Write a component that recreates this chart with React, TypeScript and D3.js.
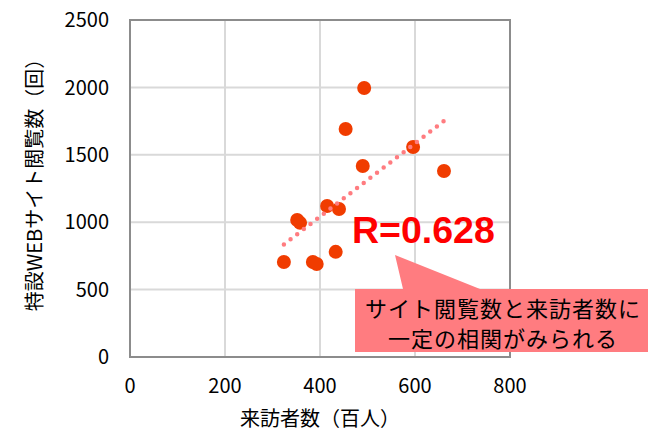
import React from "react";
import * as d3 from "d3";

const visitors = [324, 385, 393, 433, 352, 358, 415, 440, 490, 454, 493, 596, 661];
const views = [705, 705, 690, 780, 1016, 995, 1120, 1098, 1417, 1691, 1996, 1558, 1380];
const xTicks = [0, 200, 400, 600, 800];
const yTicks = [0, 500, 1000, 1500, 2000, 2500];
const xTitle = "来訪者数（百人）";
const yTitle = "特設WEBサイト閲覧数（回）";
const rLabel = "R=0.628";
const calloutLines = ["サイト閲覧数と来訪者数に", "一定の相関がみられる"];

const W = 652, H = 432;
const M = { left: 130, right: 510, top: 20, bottom: 357 };

export default function App() {
  const x = d3.scaleLinear().domain([0, 800]).range([M.left, M.right]);
  const y = d3.scaleLinear().domain([0, 2500]).range([M.bottom, M.top]);

  const mx = d3.mean(visitors)!;
  const my = d3.mean(views)!;
  let sxy = 0, sxx = 0;
  visitors.forEach((v, i) => { sxy += (v - mx) * (views[i] - my); sxx += (v - mx) ** 2; });
  const slope = sxy / sxx;
  const icpt = my - slope * mx;
  const [x0, x1] = d3.extent(visitors) as [number, number];
  const trend = d3.line<number>().x((d) => x(d)).y((d) => y(icpt + slope * d))([x0, x1]);

  const font = "'Noto Sans CJK JP', 'Noto Sans', sans-serif";

  return (
    <svg width={W} height={H} style={{ position: "absolute", left: 0, top: 0, background: "#fff" }} fontFamily={font}>
      {xTicks.slice(1, -1).map((t) => (
        <line key={"gx" + t} x1={x(t)} x2={x(t)} y1={M.top} y2={M.bottom} stroke="#d9d9d9" strokeWidth={2} />
      ))}
      {yTicks.slice(1, -1).map((t) => (
        <line key={"gy" + t} x1={M.left} x2={M.right} y1={y(t)} y2={y(t)} stroke="#d9d9d9" strokeWidth={2} />
      ))}
      <rect x={M.left} y={M.top} width={M.right - M.left} height={M.bottom - M.top} fill="none" stroke="#8c8c8c" strokeWidth={2} />
      {yTicks.map((t) => (
        <text key={"ty" + t} x={109} y={y(t)} dy="0.36em" textAnchor="end" fontSize={20} fill="#000">{t}</text>
      ))}
      {xTicks.map((t) => (
        <text key={"tx" + t} x={x(t)} y={393} textAnchor="middle" fontSize={20} fill="#000">{t}</text>
      ))}
      <text x={320} y={426} textAnchor="middle" fontSize={20} fill="#000">{xTitle}</text>
      <text transform={`translate(42,180) rotate(-90)`} textAnchor="middle" fontSize={20} fill="#000">{yTitle}</text>
      {visitors.map((v, i) => (
        <circle key={"p" + i} cx={x(v)} cy={y(views[i])} r={7} fill="#F03C00" />
      ))}
      <path d={trend ?? ""} fill="none" stroke="#FF7C80" strokeWidth={4.5} strokeLinecap="round" strokeDasharray="0 8.4" />
      <text x={352} y={243} fontSize={37.5} fontWeight="bold" fill="#FF0000" fontFamily="'Liberation Sans', Arial, sans-serif">{rLabel}</text>
      <path d="M395,255 L480,289 L648,289 L648,352 L355,352 L355,289 L403,289 Z" fill="#FF7C80" />
      <text x={503} y={317} textAnchor="middle" fontSize={22} fill="#000" letterSpacing={1}>
        {calloutLines.map((l, i) => (
          <tspan key={"c" + i} x={503} dy={i === 0 ? 0 : 30}>{l}</tspan>
        ))}
      </text>
    </svg>
  );
}
